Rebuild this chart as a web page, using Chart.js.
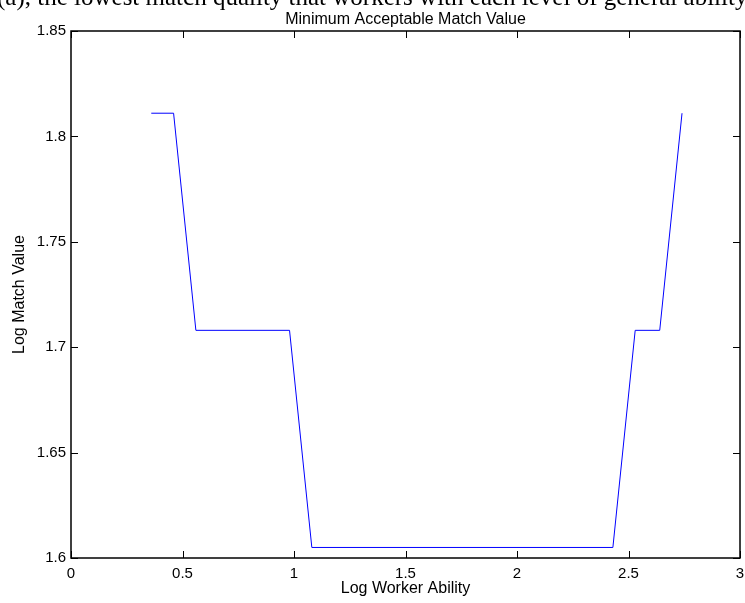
<!DOCTYPE html>
<html>
<head>
<meta charset="utf-8">
<title>Minimum Acceptable Match Value</title>
<script src="https://cdn.jsdelivr.net/npm/chart.js@4/dist/chart.umd.min.js"></script>
<style>
  body { margin: 0; background: #fff; }
  #wrap { position: relative; width: 745px; height: 603px; overflow: hidden; }
  #caption {
    position: absolute; left: -3px; top: -16px;
    font-family: "Liberation Serif", "DejaVu Serif", serif;
    font-size: 25px; line-height: 25px; white-space: nowrap; color: #000;
  }
</style>
</head>
<body>
<div id="wrap">
  <canvas id="matchChart" width="745" height="603"></canvas>
  <div id="caption">(a), the lowest match quality that workers with each level of general ability</div>
</div>
<script>
// Data
const workerAbility = [0.36, 0.46, 0.56, 0.98, 1.08, 2.43, 2.53, 2.64, 2.74];
const matchValue = [1.811, 1.811, 1.708, 1.708, 1.605, 1.605, 1.708, 1.708, 1.811];
const xTicks = [0, 0.5, 1, 1.5, 2, 2.5, 3];
const yTicks = [1.6, 1.65, 1.7, 1.75, 1.8, 1.85];

const points = workerAbility.map((x, i) => ({ x: x, y: matchValue[i] }));

// Draw the box and the inward tick marks (matlab style)
const boxTicks = {
    id: 'boxTicks',
    afterDraw(chart) {
        const { ctx, chartArea: a, scales } = chart;
        const len = 7;
        ctx.save();
        ctx.strokeStyle = '#000';
        ctx.lineWidth = 1;
        ctx.beginPath();
        xTicks.forEach(v => {
            const px = Math.round(scales.x.getPixelForValue(v)) + 0.5;
            ctx.moveTo(px, a.bottom); ctx.lineTo(px, a.bottom - len);
            ctx.moveTo(px, a.top); ctx.lineTo(px, a.top + len);
        });
        yTicks.forEach(v => {
            const py = Math.round(scales.y.getPixelForValue(v)) + 0.5;
            ctx.moveTo(a.left, py); ctx.lineTo(a.left + len, py);
            ctx.moveTo(a.right, py); ctx.lineTo(a.right - len, py);
        });
        ctx.stroke();
        ctx.lineWidth = 1.5;
        ctx.strokeRect(a.left, a.top, a.right - a.left, a.bottom - a.top);
        ctx.restore();
    }
};

const font = 'Liberation Sans';

new Chart(document.getElementById('matchChart'), {
    type: 'scatter',
    data: {
        datasets: [{
            data: points,
            showLine: true,
            borderColor: '#0000ff',
            borderWidth: 1,
            pointRadius: 0,
            fill: false
        }]
    },
    options: {
        responsive: false,
        animation: false,
        layout: { padding: { top: 0, right: 5, left: 0, bottom: 0 } },
        plugins: {
            legend: { display: false },
            tooltip: { enabled: false },
            title: {
                display: true,
                fullSize: false,
                text: 'Minimum Acceptable Match Value',
                color: '#000',
                font: { family: font, size: 16, weight: 'normal', lineHeight: 1.2 },
                padding: { top: 10, bottom: 1.8 }
            }
        },
        scales: {
            x: {
                type: 'linear',
                min: 0, max: 3,
                grid: { display: false, drawTicks: false },
                border: { display: false },
                afterBuildTicks: s => { s.ticks = xTicks.map(v => ({ value: v })); },
                afterFit: s => { s.height = 45; s.paddingLeft = 0; s.paddingRight = 0; },
                ticks: {
                    color: '#000', padding: 7,
                    font: { family: font, size: 15 },
                    callback: v => String(Number(v.toFixed(2)))
                },
                title: {
                    display: true, text: 'Log Worker Ability', color: '#000',
                    font: { family: font, size: 16, lineHeight: 1.85 },
                    padding: 0
                }
            },
            y: {
                type: 'linear',
                min: 1.6, max: 1.85,
                grid: { display: false, drawTicks: false },
                border: { display: false },
                afterBuildTicks: s => { s.ticks = yTicks.map(v => ({ value: v })); },
                afterFit: s => { s.width = 71; s.paddingTop = 0; s.paddingBottom = 0; },
                ticks: {
                    color: '#000', padding: 5,
                    font: { family: font, size: 15 },
                    callback: v => String(Number(v.toFixed(2)))
                },
                title: {
                    display: true, text: 'Log Match Value', color: '#000',
                    font: { family: font, size: 16, lineHeight: 2.5 },
                    padding: 0
                }
            }
        }
    },
    plugins: [boxTicks]
});
</script>
</body>
</html>
